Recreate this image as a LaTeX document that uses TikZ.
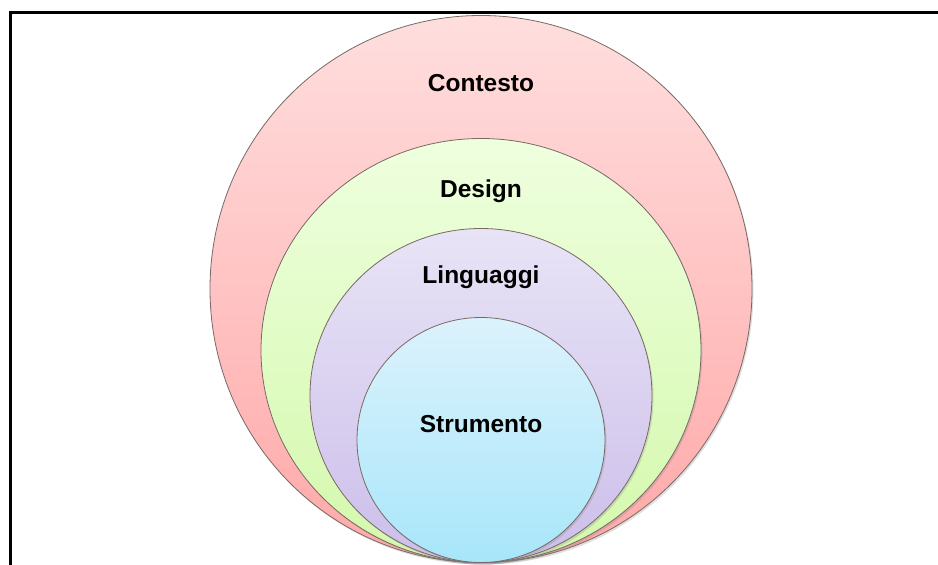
\documentclass[tikz,border=0pt]{standalone}
\usepackage{fontspec}
\setmainfont{Liberation Sans}
\usetikzlibrary{shapes.geometric,shadows}
\definecolor{redtop}{RGB}{255,222,222}
\definecolor{redbot}{RGB}{255,168,168}
\definecolor{greentop}{RGB}{238,255,222}
\definecolor{greenbot}{RGB}{212,248,172}
\definecolor{lilactop}{RGB}{232,228,246}
\definecolor{lilacbot}{RGB}{204,190,234}
\definecolor{cyantop}{RGB}{220,242,252}
\definecolor{cyanbot}{RGB}{168,230,250}
\definecolor{rim}{RGB}{120,105,100}
\tikzset{
  ring/.style={ellipse, draw=rim, line width=0.8pt, inner sep=0pt,
    drop shadow={opacity=0.25, shadow xshift=1.5pt, shadow yshift=-2pt}},
  lab/.style={font=\bfseries\fontsize{24.5}{28}\selectfont, inner sep=0pt, anchor=base}
}
\begin{document}
\begin{tikzpicture}[x=1pt,y=1pt]
\useasboundingbox (0,0) rectangle (938,565);
\fill[white] (0,0) rectangle (938,565);
\coordinate (fl) at (10,0);
\coordinate (fc) at (10,552);
\coordinate (fr) at (938,552);
\draw[line width=3pt] (fl) -- (fc) -- (fr);
\node[ring, top color=redtop, bottom color=redbot, minimum width=542pt, minimum height=547pt] (contesto) at (481,276) {};
\node[ring, top color=greentop, bottom color=greenbot, minimum width=440pt, minimum height=424pt] (design) at (481,214.5) {};
\node[ring, top color=lilactop, bottom color=lilacbot, minimum width=342pt, minimum height=334pt] (linguaggi) at (481,169.5) {};
\node[ring, top color=cyantop, bottom color=cyanbot, minimum width=248pt, minimum height=245pt] (strumento) at (481,125) {};
\node[lab] (tc) at (481,473) {Contesto};
\node[lab] (td) at (481,367) {Design};
\node[lab] (tl) at (481,281) {Linguaggi};
\node[lab] (ts) at (481,132) {Strumento};
\end{tikzpicture}
\end{document}
